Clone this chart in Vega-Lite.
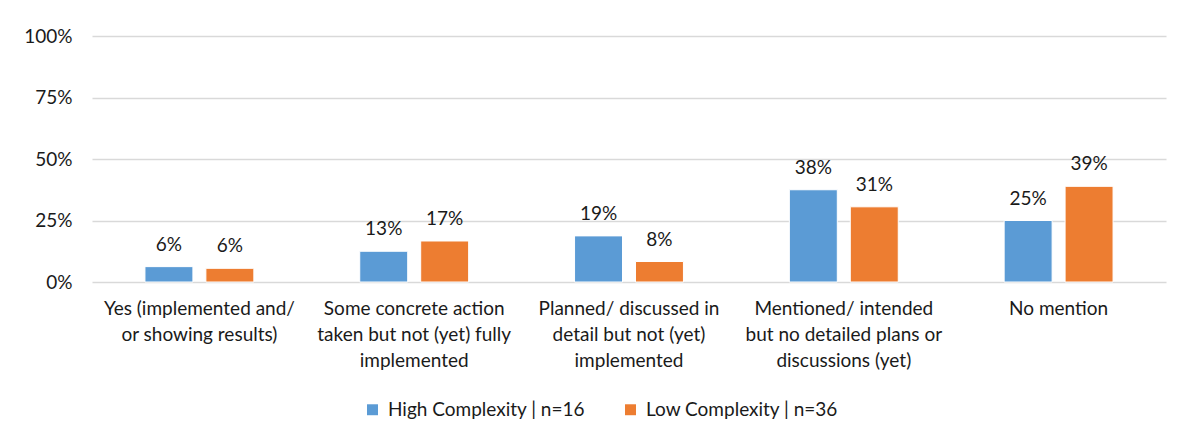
{
  "$schema": "https://vega.github.io/schema/vega-lite/v6.json",
  "width": 1074,
  "height": 246,
  "autosize": {"type": "none"},
  "padding": {"left": 92, "top": 36, "right": 21, "bottom": 162},
  "background": "white",
  "config": {
    "font": "Lato",
    "view": {"stroke": null},
    "axis": {"labelFont": "Lato", "labelFontSize": 19, "labelColor": "#1a1a1a"}
  },
  "data": {
    "values": [
      {"cat": "Yes (implemented and/|or showing results)", "order": 1, "series": "High Complexity | n=16", "value": 0.0625},
      {"cat": "Yes (implemented and/|or showing results)", "order": 1, "series": "Low Complexity | n=36", "value": 0.0556},
      {"cat": "Some concrete action|taken but not (yet) fully|implemented", "order": 2, "series": "High Complexity | n=16", "value": 0.125},
      {"cat": "Some concrete action|taken but not (yet) fully|implemented", "order": 2, "series": "Low Complexity | n=36", "value": 0.1667},
      {"cat": "Planned/ discussed in|detail but not (yet)|implemented", "order": 3, "series": "High Complexity | n=16", "value": 0.1875},
      {"cat": "Planned/ discussed in|detail but not (yet)|implemented", "order": 3, "series": "Low Complexity | n=36", "value": 0.0833},
      {"cat": "Mentioned/ intended|but no detailed plans or|discussions (yet)", "order": 4, "series": "High Complexity | n=16", "value": 0.375},
      {"cat": "Mentioned/ intended|but no detailed plans or|discussions (yet)", "order": 4, "series": "Low Complexity | n=36", "value": 0.3056},
      {"cat": "No mention", "order": 5, "series": "High Complexity | n=16", "value": 0.25},
      {"cat": "No mention", "order": 5, "series": "Low Complexity | n=36", "value": 0.3889}
    ]
  },
  "encoding": {
    "x": {
      "field": "cat", "type": "nominal", "sort": {"field": "order"},
      "scale": {"paddingInner": 0.493, "paddingOuter": 0.2465},
      "axis": {
        "title": null, "labelAngle": 0, "ticks": false, "domain": false,
        "labelPadding": 17, "labelLineHeight": 26, "labelBaseline": "top",
        "labelExpr": "split(datum.label, '|')", "labelLimit": 300
      }
    },
    "xOffset": {"field": "series", "type": "nominal", "scale": {"paddingInner": 0.213, "paddingOuter": 0}},
    "y": {
      "field": "value", "type": "quantitative",
      "scale": {"domain": [0, 1]},
      "axis": {
        "title": null, "values": [0, 0.25, 0.5, 0.75, 1], "format": ".0%",
        "ticks": false, "domain": false, "gridColor": "#D9D9D9", "gridWidth": 1.5,
        "labelPadding": 20
      }
    },
    "color": {
      "field": "series", "type": "nominal",
      "scale": {"range": ["#5B9BD5", "#ED7D31"]},
      "legend": {
        "title": null, "orient": "none", "direction": "horizontal",
        "legendX": 271, "legendY": 364, "symbolType": "square", "symbolSize": 120,
        "symbolStrokeWidth": 0, "labelFontSize": 19, "labelFont": "Lato", "labelColor": "#1a1a1a",
        "columnPadding": 36, "labelOffset": 6, "labelLimit": 400
      }
    }
  },
  "layer": [
    {"mark": {"type": "bar", "stroke": "white", "strokeWidth": 1}},
    {
      "mark": {"type": "text", "baseline": "alphabetic", "dy": -16, "fontSize": 19},
      "encoding": {"text": {"field": "value", "type": "quantitative", "format": ".0%"}, "color": {"value": "#1a1a1a"}}
    }
  ]
}
